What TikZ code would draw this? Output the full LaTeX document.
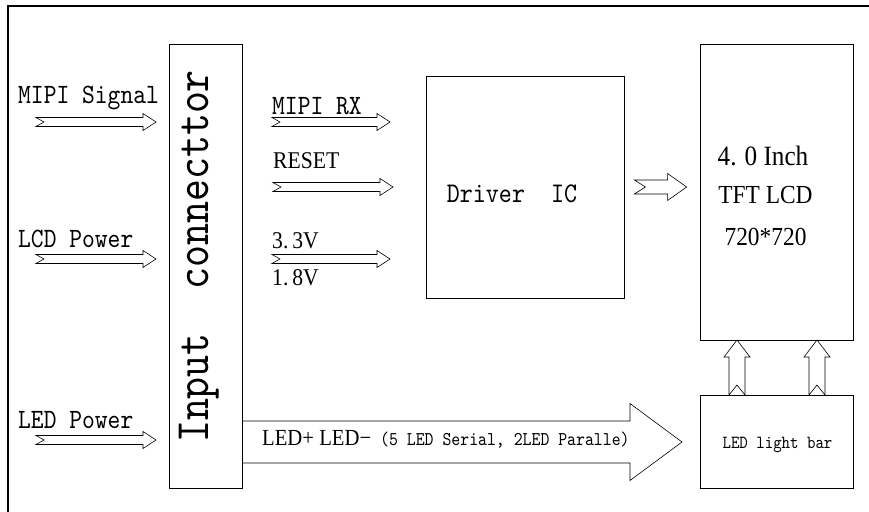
\documentclass[tikz,border=0pt]{standalone}
\usepackage{fontspec}
\newfontfamily\monofnt[FakeStretch=0.87]{lmmono10-regular.otf}
\newfontfamily\seriffnt[FakeStretch=0.9]{Liberation Serif}
\usetikzlibrary{calc}
\tikzset{
  block/.style={draw, line width=0.8pt, inner sep=0pt},
  hollow/.style={draw, line width=0.6pt, line join=miter},
  monotxt/.style={font=\monofnt\fontsize{#1}{#1}\selectfont, inner sep=0pt},
  seriftxt/.style={font=\seriffnt\fontsize{#1}{#1}\selectfont, inner sep=0pt}
}
% hollow arrow, left to right: tail, tip, shaft, head, head length, notch
\newcommand\harrow[6]{%
  \draw[hollow] let \p1=(#1), \p2=(#2) in
    (\x1,\y1+#3) -- (\x2-#5,\y1+#3) -- (\x2-#5,\y1+#4) -- (\x2,\y1)
    -- (\x2-#5,\y1-#4) -- (\x2-#5,\y1-#3) -- (\x1,\y1-#3)
    -- (\x1+#6,\y1) -- cycle;}
% hollow arrow, bottom to top
\newcommand\varrow[6]{%
  \draw[hollow] let \p1=(#1), \p2=(#2) in
    (\x1-#3,\y1) -- (\x1-#3,\y2-#5) -- (\x1-#4,\y2-#5) -- (\x1,\y2)
    -- (\x1+#4,\y2-#5) -- (\x1+#3,\y2-#5) -- (\x1+#3,\y1)
    -- (\x1,\y1+#6) -- cycle;}

\begin{document}
\begin{tikzpicture}[x=1pt,y=-1pt]
\useasboundingbox (0,0) rectangle (869,511);
%Frame
\draw[line width=1.4pt] (8,530) -- (8,6) -- (890,6);

%Blocks
\node[block, minimum width=73pt, minimum height=444pt] (conn) at (205.5,266) {};
\node[block, minimum width=198pt, minimum height=222pt] (drv) at (525,187) {};
\node[block, minimum width=153pt, minimum height=296pt] (lcd) at (776.5,192) {};
\node[block, minimum width=153pt, minimum height=93pt] (bar) at (776.5,441.5) {};

% Block texts
\node[monotxt=48, rotate=90, anchor=base] (connlbl) at (208,256.5) {Input\ \ connecttor};
\node[monotxt=28.5, anchor=base] (drvlbl) at (512,202) {Driver\ \ IC};
\node[seriftxt=28, anchor=base] (lcdsize) at (763,165) {4.\hspace{8pt}0 Inch};
\node[seriftxt=26, anchor=base] (lcdtype) at (765.5,203) {TFT LCD};
\node[seriftxt=26, anchor=base] (lcdres) at (765.5,245) {720*720};
\node[monotxt=18.5, anchor=base] (barlbl) at (777.5,448) {LED light bar};

% Input side
\node[monotxt=28, anchor=base west] (mipisig) at (18,103) {MIPI Signal};
\node[monotxt=28, anchor=base west] (lcdpwr) at (18,247) {LCD Power};
\node[monotxt=28, anchor=base west] (ledpwr) at (18,428) {LED Power};
\coordinate (mipisig-t) at (36,122);  \coordinate (mipisig-h) at (156,122);
\coordinate (lcdpwr-t) at (36,259);   \coordinate (lcdpwr-h) at (156,259);
\coordinate (ledpwr-t) at (36,440);   \coordinate (ledpwr-h) at (156,440);
\harrow{mipisig-t}{mipisig-h}{4.5pt}{8.5pt}{13pt}{8pt}
\harrow{lcdpwr-t}{lcdpwr-h}{4.5pt}{8.5pt}{13pt}{8pt}
\harrow{ledpwr-t}{ledpwr-h}{4.5pt}{8.5pt}{13pt}{8pt}

% Connector to driver
\node[monotxt=28, anchor=base west] (mipirx) at (272,114) {MIPI RX};
\node[seriftxt=24, anchor=base west] (reset) at (273,168) {RESET};
\node[seriftxt=24, anchor=base west] (vcc) at (272,248) {3.\hspace{4pt}3V};
\node[seriftxt=24, anchor=base west] (vio) at (272,285) {1.\hspace{4pt}8V};
\coordinate (mipirx-t) at (272,122);  \coordinate (mipirx-h) at (390,122);
\coordinate (reset-t) at (273,187);   \coordinate (reset-h) at (393,187);
\coordinate (vcc-t) at (272,259);     \coordinate (vcc-h) at (390,259);
\harrow{mipirx-t}{mipirx-h}{4.5pt}{8.5pt}{13pt}{8pt}
\harrow{reset-t}{reset-h}{4.5pt}{8.5pt}{13pt}{8pt}
\harrow{vcc-t}{vcc-h}{4.5pt}{8.5pt}{13pt}{8pt}

% Driver to LCD
\coordinate (drvout) at ([xshift=10pt]drv.east);
\coordinate (lcdin) at ([xshift=-13pt]lcd.west |- drv.east);
\harrow{drvout}{lcdin}{7pt}{13.5pt}{19pt}{11pt}

% Light bar to LCD
\coordinate (bl1-t) at (737,395);  \coordinate (bl1-h) at (737,340);
\coordinate (bl2-t) at (817,395);  \coordinate (bl2-h) at (817,340);
\varrow{bl1-t}{bl1-h}{8pt}{13pt}{17pt}{10pt}
\varrow{bl2-t}{bl2-h}{8pt}{13pt}{17pt}{10pt}

% LED supply
\coordinate (led-t) at (conn.east |- 0,442);
\coordinate (led-h) at (682,442);
\harrow{led-t}{led-h}{21pt}{38.5pt}{52pt}{0pt}
\node[seriftxt=23, anchor=base west] (ledpm) at (262,445) {LED+ LED−};
\node[monotxt=19.5, anchor=base west] (ledcfg) at (380,445) {(5 LED Serial, 2LED Paralle)};
\end{tikzpicture}
\end{document}
